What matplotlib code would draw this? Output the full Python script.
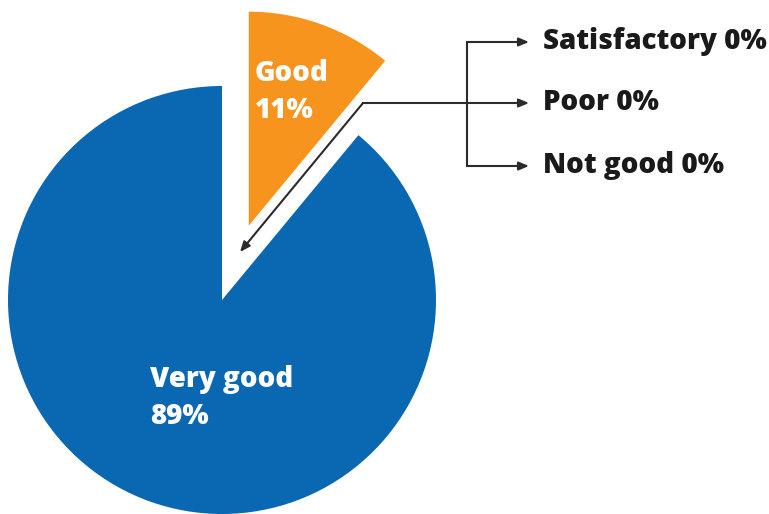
import matplotlib.pyplot as plt

# datos del gráfico
categories = ["Good", "Very good", "Satisfactory", "Poor", "Not good"]
percent = [11, 89, 0, 0, 0]

COLOR_BLUE = "#0a67b1"
COLOR_ORANGE = "#f7941d"
COLOR_LINE = "#2b2b2b"
W, H = 769, 514

plt.rcParams["font.family"] = ["Open Sans", "DejaVu Sans"]

fig = plt.figure(figsize=(W / 100, H / 100), dpi=100)
ax = fig.add_axes([0, 0, 1, 1])


def py(y):
    # coordenadas de píxel con origen arriba
    return H - y


shown = [(c, v) for c, v in zip(categories, percent) if v > 0]
vals = [v for _, v in shown]
colors = [COLOR_ORANGE if c == "Good" else COLOR_BLUE for c, _ in shown]
explode = [79 if c == "Good" else 0 for c, _ in shown]

ax.pie(vals, colors=colors, explode=explode, startangle=90, counterclock=False,
       center=(222, py(300)), radius=214, wedgeprops=dict(linewidth=0))

label_pos = {"Good": (255, 92), "Very good": (150, 398)}
for c, v in shown:
    x, y = label_pos[c]
    ax.text(x, py(y), f"{c}\n{v}%", color="white", fontsize=20, fontweight=800,
            ha="left", va="center", linespacing=1.38)

# conector hacia el hueco entre porciones
ax.plot([467, 363], [py(103), py(103)], color=COLOR_LINE, lw=1.5)
ax.annotate("", xy=(240, py(252)), xytext=(363, py(103)),
            arrowprops=dict(arrowstyle="-|>,head_length=0.6,head_width=0.25",
                            color=COLOR_LINE, lw=1.5, shrinkA=0, shrinkB=0))
ax.plot([467, 467], [py(42), py(166)], color=COLOR_LINE, lw=1.5)

zero_cats = [(c, v) for c, v in zip(categories, percent) if v == 0]
ys = [42, 103, 166]
for (c, v), y in zip(zero_cats, ys):
    ax.annotate("", xy=(529, py(y)), xytext=(467, py(y)),
                arrowprops=dict(arrowstyle="-|>,head_length=0.6,head_width=0.25",
                                color=COLOR_LINE, lw=1.5, shrinkA=0, shrinkB=0))
    ax.text(543, py(y), f"{c} {v}%", color="#1a1a1a", fontsize=20,
            fontweight=800, ha="left", va="center")

ax.set_xlim(0, W)
ax.set_ylim(0, H)
ax.set_aspect("auto")
ax.axis("off")

fig.savefig("out.png", dpi=100, facecolor="white")
